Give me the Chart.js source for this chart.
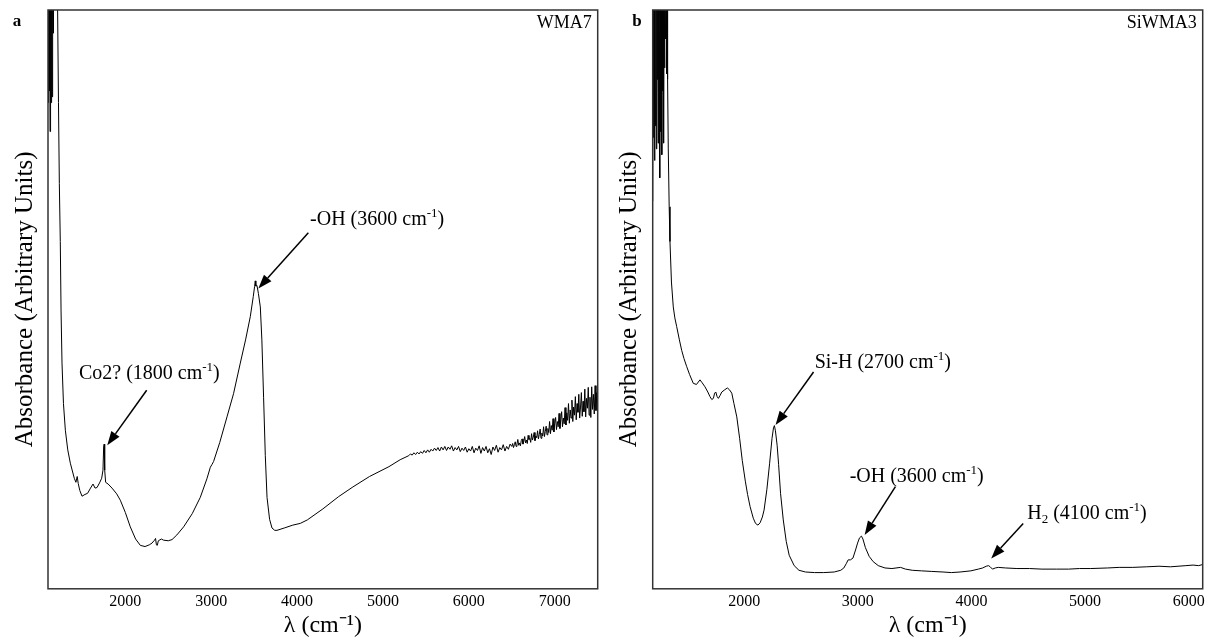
<!DOCTYPE html>
<html>
<head>
<meta charset="utf-8">
<script src="https://cdn.jsdelivr.net/npm/chart.js@4.4.1/dist/chart.umd.min.js"></script>
<style>
  html, body { margin: 0; padding: 0; background: #fff; overflow: hidden; }
  #wrap { position: relative; width: 1212px; height: 640px; }
  #chartA { position: absolute; left: 0; top: 0; }
  #chartB { position: absolute; left: 606px; top: 0; }
</style>
</head>
<body>
<div id="wrap">
  <canvas id="chartA" width="606" height="640"></canvas>
  <canvas id="chartB" width="606" height="640"></canvas>
</div>
<script>
// ---- data: panel a (WMA7) ----
const wmaWn = [
  1100, 1103, 1106, 1109, 1112, 1115, 1118, 1121, 1124, 1127, 1130, 1133, 1136, 1139, 1142, 1145,
  1148, 1151, 1154, 1157, 1160, 1164, 1170, 1180, 1192, 1205, 1212, 1222, 1232, 1243, 1252, 1263,
  1280, 1302, 1330, 1360, 1406, 1425, 1440, 1452, 1470, 1496, 1530, 1561, 1595, 1624, 1648, 1671,
  1700, 1725, 1740, 1748, 1754, 1760, 1771, 1800, 1845, 1900, 1942, 2000, 2058, 2120, 2175, 2230,
  2280, 2311, 2340, 2352, 2362, 2372, 2385, 2420, 2446, 2500, 2544, 2600, 2679, 2780, 2873, 2950,
  2990, 3010, 3028, 3100, 3184, 3260, 3339, 3400, 3455, 3490, 3505, 3513, 3520, 3533, 3550, 3572,
  3590, 3610, 3630, 3650, 3680, 3708, 3740, 3766, 3850, 3950, 4037, 4119, 4300, 4481, 4650, 4843,
  5069, 5200,
  5300, 5320, 5340, 5360, 5380, 5400, 5420, 5440, 5460, 5480, 5500, 5520, 5540, 5560, 5580, 5600,
  5620, 5640, 5660, 5680, 5700, 5720, 5740, 5760, 5780, 5800, 5820, 5840, 5860, 5880, 5900, 5920,
  5940, 5960, 5980, 6000, 6020, 6040, 6060, 6080, 6100, 6120, 6140, 6160, 6180, 6200, 6220, 6240,
  6260, 6280, 6300, 6320, 6340, 6360, 6380, 6400, 6420, 6440, 6460, 6480,
  6500, 6510, 6520, 6530, 6540, 6550, 6560, 6570, 6580, 6590, 6600, 6610, 6620, 6630, 6640, 6650,
  6660, 6670, 6680, 6690, 6700, 6710, 6720, 6730, 6740, 6750, 6760, 6770, 6780, 6790, 6800, 6810,
  6820, 6830, 6840, 6850, 6860, 6870, 6880, 6890, 6900, 6910, 6920, 6930, 6940, 6950, 6960, 6970,
  6980, 6990, 7000, 7010, 7020, 7030, 7040, 7050, 7060, 7070, 7080, 7090, 7100, 7110, 7120, 7130,
  7140, 7150, 7160, 7170, 7180, 7190, 7200, 7210, 7220, 7230, 7240, 7250, 7260, 7270, 7280, 7290,
  7300, 7310, 7320, 7330, 7340, 7350, 7360, 7370, 7380, 7390, 7400, 7410, 7420, 7430, 7440, 7450,
  7460, 7470, 7480, 7490, 7500
];
const wmaAbs = [
  88, 104, 84, 106, 90, 103, 86, 105, 79, 102, 92, 107, 84, 104, 89, 106,
  85, 103, 93, 106, 96, 108, 110, 112, 111, 106, 100, 84, 70, 60, 48, 39,
  32, 27.4, 24, 21.7, 19.1, 18.4, 19.4, 18.2, 17.0, 16.0, 16.3, 16.5, 17.4, 18.1, 17.4, 17.5,
  18.3, 19.1, 20.5, 24.5, 25.0, 20.5, 18.4, 18.1, 17.4, 16.4, 15.3, 13.2, 10.7, 8.6, 7.5, 7.3,
  7.6, 7.9, 8.4, 8.7, 7.6, 7.5, 8.3, 8.6, 8.4, 8.3, 8.5, 9.3, 10.7, 13.0, 15.8, 19.0,
  21.0, 21.5, 22.0, 25.3, 29.7, 33.7, 39.0, 43.0, 47.0, 50.5, 52.2, 53.2, 52.3, 52.4, 51.0, 48.7,
  43.0, 33.1, 23.0, 15.8, 12.0, 10.5, 10.1, 10.1, 10.5, 11.0, 11.3, 11.9, 13.8, 15.9, 17.6, 19.4,
  21.1, 22.3,
  23.0, 23.3, 23.1, 23.5, 23.2, 23.6, 23.3, 23.7, 23.4, 23.9, 23.5, 24.0, 23.6, 24.1, 23.8, 24.3,
  23.9, 24.4, 23.8, 24.5, 24.0, 24.6, 23.9, 24.5, 24.1, 24.7, 23.8, 24.4, 24.0, 24.6, 23.7, 24.3,
  23.9, 24.5, 23.6, 24.2, 23.8, 24.6, 23.5, 24.3, 23.9, 24.7, 23.4, 24.4, 23.8, 24.6, 23.5, 24.2,
  23.2, 24.5, 23.9, 24.8, 23.6, 24.4, 24.0, 24.9, 23.8, 24.6, 24.1, 25.0,
  24.6, 25.1, 24.4, 24.9, 25.4, 24.6, 25.0, 25.8, 24.8, 25.2, 24.7, 25.6, 25.9, 25.0, 25.5, 26.3,
  25.2, 25.7, 25.1, 26.5, 25.8, 26.0, 25.3, 26.8, 25.7, 26.2, 27.0, 25.6, 26.4, 26.1, 27.3, 25.9,
  26.7, 27.6, 26.0, 26.9, 26.4, 28.0, 26.3, 27.2, 28.1, 26.6, 27.7, 27.0, 28.9, 26.8, 28.2, 27.4,
  29.4, 27.1, 28.6, 29.6, 27.5, 28.9, 28.0, 30.3, 27.7, 29.2, 30.6, 28.0, 29.5, 28.5, 31.3, 28.3,
  30.4, 29.1, 32.0, 28.6, 30.9, 29.5, 32.6, 28.9, 31.4, 30.0, 33.2, 29.2, 32.0, 30.5, 33.6, 29.5,
  31.4, 33.9, 29.8, 32.4, 30.6, 34.5, 29.7, 32.9, 31.2, 34.8, 30.0, 33.1, 29.6, 34.9, 31.0, 33.6,
  30.2, 35.1, 30.8, 33.9, 31.5
];

// ---- data: panel b (SiWMA3) ----
const siwmaWn = [
  1195, 1199, 1203, 1207, 1211, 1215, 1219, 1223, 1227, 1231, 1235, 1239, 1243, 1247, 1251, 1255,
  1259, 1263, 1267, 1271, 1275, 1279, 1283, 1287, 1291, 1295, 1299, 1303, 1308, 1313, 1318, 1322,
  1326, 1332, 1340, 1347, 1360, 1376, 1390, 1406, 1430, 1450, 1470, 1494, 1520, 1552, 1580, 1611,
  1630, 1655, 1680, 1699, 1715, 1729, 1740, 1750, 1762, 1773, 1788, 1803, 1830, 1852, 1870, 1891,
  1910, 1935, 1960, 1983, 2010, 2030, 2052, 2080, 2100, 2121, 2140, 2160, 2175, 2200, 2224, 2245,
  2258, 2266, 2275, 2290, 2303, 2320, 2344, 2370, 2396, 2440, 2482, 2540, 2619, 2700, 2792, 2850,
  2877, 2900, 2915, 2935, 2957, 2980, 2998, 3015, 3032, 3045, 3067, 3100, 3135, 3180, 3239, 3300,
  3376, 3420, 3479, 3560, 3651, 3750, 3823, 3900, 3995, 4060, 4099, 4130, 4150, 4165, 4185, 4210,
  4236, 4300, 4400, 4511, 4620, 4750, 4855, 4950, 5050, 5199, 5300, 5420, 5543, 5650, 5750, 5887,
  5950, 6000, 6035
];
const siwmaAbs = [
  67, 110, 78, 112, 74, 109, 80, 111, 76, 108, 88, 113, 77, 110, 84, 112,
  71, 109, 79, 111, 75, 108, 86, 112, 77, 110, 90, 109, 95, 108, 89, 104,
  88, 76, 66, 60, 53, 48.7, 46.8, 45.3, 43.0, 41.2, 39.8, 38.4, 37.0, 35.5, 35.3, 36.1,
  35.6, 34.9, 34.0, 33.2, 32.7, 32.9, 33.8, 34.0, 33.2, 32.9, 33.4, 34.0, 34.4, 34.7, 34.4, 33.8,
  32.0, 29.7, 26.0, 22.2, 18.6, 16.3, 14.2, 12.2, 11.3, 11.0, 11.4, 12.4, 13.6, 17.2, 21.7, 26.0,
  27.8, 28.2, 27.3, 24.8, 21.5, 16.5, 11.9, 8.2, 5.8, 4.0, 3.2, 2.9, 2.8, 2.8, 2.9, 3.2,
  3.6, 4.4, 5.0, 5.0, 5.3, 6.7, 7.9, 8.8, 9.1, 8.6, 7.1, 5.6, 4.7, 4.0, 3.6, 3.5,
  3.7, 3.4, 3.2, 3.1, 3.0, 2.9, 2.8, 2.9, 3.1, 3.4, 3.6, 3.9, 4.0, 3.8, 3.4, 3.6,
  3.7, 3.6, 3.5, 3.5, 3.4, 3.4, 3.4, 3.5, 3.5, 3.6, 3.7, 3.7, 3.8, 3.9, 3.8, 4.0,
  4.1, 4.0, 4.2
];

// x axis limits and tick labels
const wmaRange = [1100, 7500];
const wmaTicks = [2000, 3000, 4000, 5000, 6000, 7000];
const siwmaRange = [1195, 6035];
const siwmaTicks = [2000, 3000, 4000, 5000, 6000];

// annotated peaks: anchor in data units, label text (^{} = superscript, _{} = subscript)
const wmaNoteWn = [3549, 1790];
const wmaNoteAbs = [51.9, 24.8];
const wmaNoteText = ['-OH (3600 cm^{-1})', 'Co2? (1800 cm^{-1})'];
const siwmaNoteWn = [2276, 3060, 4174];
const siwmaNoteAbs = [28.3, 9.3, 5.25];
const siwmaNoteText = ['Si-H (2700 cm^{-1})', '-OH (3600 cm^{-1})', 'H_{2} (4100 cm^{-1})'];

const SERIF = "'Liberation Serif', 'Times New Roman', serif";
Chart.defaults.font.family = SERIF;
Chart.defaults.color = '#000';

function drawRich(ctx, text, x, y) {
  const re = /([\^_])\{([^}]*)\}/g;
  let last = 0, m, cx = x;
  const seg = (s, mode) => {
    if (!s) return;
    ctx.font = (mode ? '13px ' : '20px ') + SERIF;
    const dy = mode === '^' ? -8 : (mode === '_' ? 4 : 0);
    ctx.fillText(s, cx, y + dy);
    cx += ctx.measureText(s).width;
  };
  while ((m = re.exec(text))) {
    seg(text.slice(last, m.index));
    seg(m[2], m[1]);
    last = re.lastIndex;
  }
  seg(text.slice(last));
}

function drawArrow(ctx, x0, y0, x1, y1) {
  const ang = Math.atan2(y1 - y0, x1 - x0);
  const len = 14, half = 5;
  const bx = x1 - len * Math.cos(ang), by = y1 - len * Math.sin(ang);
  ctx.lineWidth = 1.5;
  ctx.beginPath(); ctx.moveTo(x0, y0); ctx.lineTo(bx, by); ctx.stroke();
  ctx.beginPath();
  ctx.moveTo(x1, y1);
  ctx.lineTo(bx + half * Math.sin(ang), by - half * Math.cos(ang));
  ctx.lineTo(bx - half * Math.sin(ang), by + half * Math.cos(ang));
  ctx.closePath(); ctx.fill();
}

// frame, panel letter, sample name and arrow notes
const decor = {
  id: 'decor',
  afterDraw(chart, args, opts) {
    const { ctx, chartArea: a, scales: { x, y } } = chart;
    ctx.save();
    ctx.strokeStyle = '#333';
    ctx.lineWidth = 1.5;
    ctx.strokeRect(a.left, a.top, a.right - a.left, a.bottom - a.top);

    ctx.fillStyle = '#000';
    ctx.strokeStyle = '#000';
    ctx.textBaseline = 'middle';
    ctx.textAlign = 'center';
    ctx.font = 'bold 17px ' + SERIF;
    ctx.fillText(opts.letter, opts.letterX, 22);
    ctx.textAlign = 'right';
    ctx.font = '18px ' + SERIF;
    ctx.fillText(opts.sample, a.right - 6, 23);

    ctx.textAlign = 'left';
    ctx.textBaseline = 'alphabetic';
    opts.wn.forEach((wn, i) => {
      const px = x.getPixelForValue(wn), py = y.getPixelForValue(opts.abs[i]);
      const off = opts.offsets[i];
      drawArrow(ctx, px + off.tail[0], py + off.tail[1], px, py);
      drawRich(ctx, opts.text[i], px + off.text[0], py + off.text[1]);
    });
    ctx.restore();
  }
};

function makeChart(id, wn, abs, range, tickVals, padding, titlePad, decorOpts) {
  const lastTick = tickVals[tickVals.length - 1];
  return new Chart(document.getElementById(id), {
    type: 'line',
    data: {
      datasets: [{
        data: wn.map((v, i) => ({ x: v, y: abs[i] })),
        borderColor: '#000',
        borderWidth: 1,
        pointRadius: 0,
        tension: 0
      }]
    },
    options: {
      responsive: false,
      animation: false,
      layout: { padding: padding },
      plugins: { legend: { display: false }, tooltip: { enabled: false }, decor: decorOpts },
      scales: {
        x: {
          type: 'linear',
          min: range[0],
          max: range[1],
          grid: { display: false, drawTicks: false },
          border: { display: false },
          afterBuildTicks: s => { s.ticks = tickVals.map(v => ({ value: v })); },
          ticks: {
            autoSkip: false,
            maxRotation: 0,
            padding: 3,
            font: { size: 16 },
            // a last label sitting right at the edge gets pulled left
            callback: v => (v === lastTick && range[1] - v < 300)
              ? String(v) + '\u00a0\u00a0\u00a0\u00a0\u00a0' : String(v)
          },
          afterFit: s => { s.paddingRight = 0; s.paddingLeft = 0; },
          title: {
            display: true,
            text: 'λ (cm⁻¹)',
            font: { size: 24, lineHeight: 1.0 },
            padding: { top: 0, bottom: 2 }
          }
        },
        y: {
          min: 0,
          max: 100,
          grid: { display: false, drawTicks: false },
          border: { display: false },
          ticks: { display: false },
          title: {
            display: true,
            text: 'Absorbance (Arbitrary Units)',
            font: { size: 25 },
            padding: titlePad
          }
        }
      }
    },
    plugins: [decor]
  });
}

makeChart('chartA', wmaWn, wmaAbs, wmaRange, wmaTicks,
  { left: 0, right: 8.3, top: 10, bottom: 0 },
  { top: 10, bottom: 8 },
  {
    letter: 'a', letterX: 17, sample: 'WMA7',
    wn: wmaNoteWn, abs: wmaNoteAbs, text: wmaNoteText,
    offsets: [
      { tail: [50, -55.6], text: [51.7, -63.3] },
      { tail: [39.4, -55], text: [-28.3, -66] }
    ]
  });

makeChart('chartB', siwmaWn, siwmaAbs, siwmaRange, siwmaTicks,
  { left: 0, right: 9.3, top: 10, bottom: 0 },
  { top: 8.7, bottom: 8 },
  {
    letter: 'b', letterX: 31, sample: 'SiWMA3',
    wn: siwmaNoteWn, abs: siwmaNoteAbs, text: siwmaNoteText,
    offsets: [
      { tail: [38, -53], text: [39.1, -57] },
      { tail: [30.8, -48.3], text: [-15, -53] },
      { tail: [32, -35], text: [36, -39.3] }
    ]
  });
</script>
</body>
</html>
